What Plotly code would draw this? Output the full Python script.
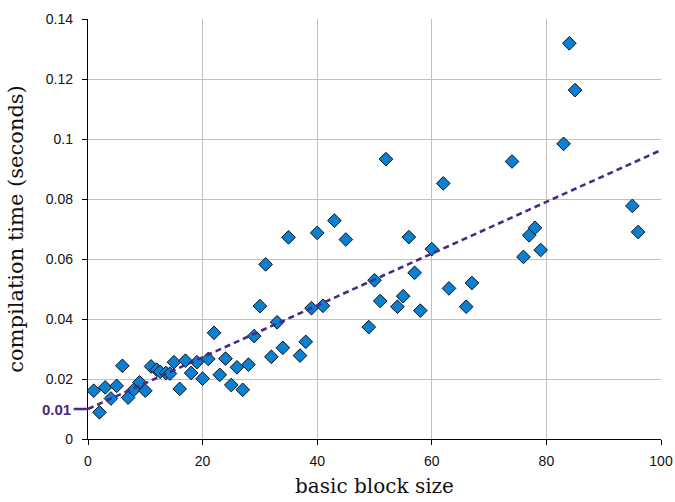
import plotly.graph_objects as go

# Data
block_size = [1, 2, 3, 4, 5, 6, 7, 8, 9, 10,
              11, 12, 12.6, 13.6, 14.3, 15, 16, 17, 18, 19,
              20, 21, 22, 23, 24, 25, 26, 27, 28, 29,
              30, 31, 32, 33, 34, 35, 37, 38, 39, 40,
              41, 43, 45, 49, 50, 51, 52, 54, 55, 56,
              57, 58, 60, 62, 63, 66, 67, 74, 76, 77,
              78, 79, 83, 84, 85, 95, 96]
compile_time = [0.0161, 0.0089, 0.0172, 0.0135, 0.0177, 0.0244, 0.0138, 0.0164, 0.0189, 0.0161,
                0.0242, 0.0231, 0.0224, 0.0220, 0.0218, 0.0256, 0.0167, 0.0261, 0.0220, 0.0256,
                0.0201, 0.0267, 0.0354, 0.0214, 0.0268, 0.0180, 0.0239, 0.0164, 0.0248, 0.0343,
                0.0443, 0.0582, 0.0274, 0.0389, 0.0304, 0.0672, 0.0278, 0.0324, 0.0436, 0.0687,
                0.0444, 0.0728, 0.0665, 0.0373, 0.0529, 0.0460, 0.0933, 0.0441, 0.0476, 0.0673,
                0.0554, 0.0428, 0.0633, 0.0852, 0.0502, 0.0441, 0.0520, 0.0925, 0.0607, 0.0679,
                0.0704, 0.0630, 0.0984, 0.1319, 0.1163, 0.0777, 0.0690]

trend_x = [0, 100]
trend_y = [0.010, 0.0963]
intercept_label = "0.01"
intercept_value = 0.01

x_ticks = [0, 20, 40, 60, 80, 100]
y_ticks = [0, 0.02, 0.04, 0.06, 0.08, 0.1, 0.12, 0.14]

PURPLE = "#4a2a80"

fig = go.Figure()
fig.add_trace(go.Scatter(
    x=block_size, y=compile_time, mode="markers",
    marker=dict(symbol="diamond", size=10.5, color="#0a80d2",
                line=dict(color="#111111", width=1)),
    showlegend=False, hoverinfo="x+y"))
fig.add_trace(go.Scatter(
    x=trend_x, y=trend_y, mode="lines",
    line=dict(color=PURPLE, width=2.6, dash="6px,4px"),
    showlegend=False, hoverinfo="skip"))

fig.add_shape(type="line", xref="paper", yref="y",
              x0=-0.025, x1=0, y0=intercept_value, y1=intercept_value,
              line=dict(color=PURPLE, width=2.5))
fig.add_annotation(xref="paper", yref="y", x=-0.026, y=intercept_value,
                   text="<b>" + intercept_label + "</b>", showarrow=False,
                   xanchor="right", yanchor="middle", xshift=0,
                   font=dict(family="Liberation Sans, Arial, sans-serif", size=15, color=PURPLE))

serif = "DejaVu Serif, serif"
sans = "Liberation Sans, Arial, sans-serif"

fig.update_layout(
    width=675, height=502,
    margin=dict(l=88, r=14, t=19, b=63, autoexpand=False),
    paper_bgcolor="white", plot_bgcolor="white",
    font=dict(family=sans, size=14, color="#111111"),
    xaxis=dict(range=[0, 100], tickvals=x_ticks, showgrid=True, gridcolor="#c0c0c0", gridwidth=1,
               zeroline=False, showline=True, linecolor="#000000", linewidth=1.3,
               ticks="outside", ticklen=5, tickcolor="#000000", automargin=False,
               ticklabelstandoff=4,
               title=dict(text="basic block size", font=dict(family=serif, size=20), standoff=11)),
    yaxis=dict(range=[0, 0.14], tickvals=y_ticks, showgrid=True, gridcolor="#c0c0c0", gridwidth=1,
               zeroline=False, showline=True, linecolor="#000000", linewidth=1.3,
               ticks="outside", ticklen=5, tickcolor="#000000", automargin=False,
               ticklabelstandoff=6,
               title=dict(text="compilation time (seconds)", font=dict(family=serif, size=21), standoff=16)),
)

fig.write_html("out.html",
               config={"displayModeBar": False},
               post_script="document.body.style.margin='0';document.body.style.overflow='hidden';")
